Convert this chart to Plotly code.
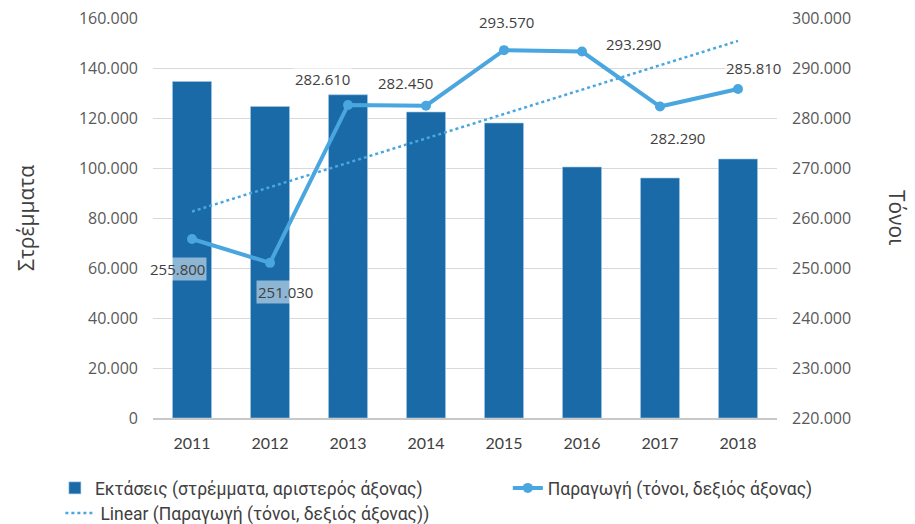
import numpy as np
import plotly.graph_objects as go

# Data
years = [2011, 2012, 2013, 2014, 2015, 2016, 2017, 2018]
area_stremmata = [134600, 124600, 129300, 122400, 118000, 100400, 96000, 103600]
production_tons = [255800, 251030, 282610, 282450, 293570, 293290, 282290, 285810]
production_labels = ["255.800", "251.030", "282.610", "282.450", "293.570", "293.290", "282.290", "285.810"]

# Label offsets (pixels) relative to each production point
label_dx = [-15, 15, -26, -21, 2, 51, 17, 15]
label_dy = [-30, -29, 26, 23, 28, 8, -31, 21]

BAR_COLOR = "#1a6aa8"
LINE_COLOR = "#4aa6de"
TEXT = "#404040"
TICK = "#595959"

# Plot area in pixels
W, H = 915, 524
ML, MR, MT, MB = 153, 138, 18, 106
plot_w = W - ML - MR
plot_h = H - MT - MB

# Linear trend of production
xi = np.arange(1, len(years) + 1)
slope, intercept = np.polyfit(xi, production_tons, 1)
trend = (slope * xi + intercept).tolist()

fig = go.Figure()

fig.add_trace(go.Bar(
    x=years, y=area_stremmata, name="Εκτάσεις (στρέμματα, αριστερός άξονας)",
    marker=dict(color=BAR_COLOR, line=dict(color="rgba(160,200,230,0.6)", width=1)),
    width=0.5, yaxis="y", legend="legend",
))

fig.add_trace(go.Scatter(
    x=years, y=production_tons, name="Παραγωγή (τόνοι, δεξιός άξονας)",
    mode="lines+markers", line=dict(color=LINE_COLOR, width=4),
    marker=dict(color=LINE_COLOR, size=10), yaxis="y2", legend="legend2",
))

fig.add_trace(go.Scatter(
    x=years, y=trend, name="Linear (Παραγωγή (τόνοι, δεξιός άξονας))",
    mode="lines", line=dict(color=LINE_COLOR, width=2.5, dash="dot"),
    yaxis="y2", legend="legend3",
))

annotations = []
for yr, val, txt, dx, dy in zip(years, production_tons, production_labels, label_dx, label_dy):
    annotations.append(dict(
        x=yr, y=val, xref="x", yref="y2", text=txt, showarrow=False,
        xshift=dx, yshift=dy, bgcolor="rgba(255,255,255,0.5)",
        font=dict(family="Open Sans", size=15, color=TEXT),
    ))

# Right-hand axis title, reading top to bottom
annotations.append(dict(
    x=(897 - ML) / plot_w, y=(H - MB - 217) / plot_h, xref="paper", yref="paper",
    xanchor="center", yanchor="middle", text="Τόνοι", showarrow=False,
    textangle=90, font=dict(family="Open Sans", size=21, color=TEXT),
))

legend_font = dict(family="Roboto, sans-serif", size=17.5, color=TEXT)

fig.update_layout(
    width=W, height=H,
    margin=dict(l=ML, r=MR, t=MT, b=MB, autoexpand=False),
    paper_bgcolor="white", plot_bgcolor="white",
    separators=",.",
    showlegend=True,
    annotations=annotations,
    xaxis=dict(
        range=[years[0] - 0.5, years[-1] + 0.5], tickvals=years, ticktext=[str(y) for y in years],
        showgrid=False, showline=True, linecolor="#c8c8c8", linewidth=2, zeroline=False,
        ticks="", tickfont=dict(family="Lato", size=16, color=TEXT), ticklabelstandoff=10,
    ),
    yaxis=dict(
        range=[0, 160000], dtick=20000, tickformat=",d",
        showgrid=True, gridcolor="#d9d9d9", gridwidth=1, zeroline=False,
        showline=False, tickfont=dict(family="Open Sans", size=16, color=TICK),
        ticklabelstandoff=14,
        title=dict(text="Στρέμματα", font=dict(family="Open Sans", size=21, color=TEXT), standoff=38),
    ),
    yaxis2=dict(
        range=[220000, 300000], dtick=10000, tickformat=",d", overlaying="y", side="right",
        showgrid=False, zeroline=False, showline=False,
        tickfont=dict(family="Open Sans", size=16, color=TICK), ticklabelstandoff=14,
    ),
    legend=dict(xref="container", yref="container", x=0.060, y=1 - 470 / H,
                xanchor="left", yanchor="top", orientation="h", font=legend_font,
                bgcolor="rgba(0,0,0,0)"),
    legend2=dict(xref="container", yref="container", x=0.555, y=1 - 470 / H,
                 xanchor="left", yanchor="top", orientation="h", font=legend_font,
                 bgcolor="rgba(0,0,0,0)"),
    legend3=dict(xref="container", yref="container", x=0.066, y=1 - 495 / H,
                 xanchor="left", yanchor="top", orientation="h", font=legend_font,
                 bgcolor="rgba(0,0,0,0)"),
)

fig.write_html("out.html")
